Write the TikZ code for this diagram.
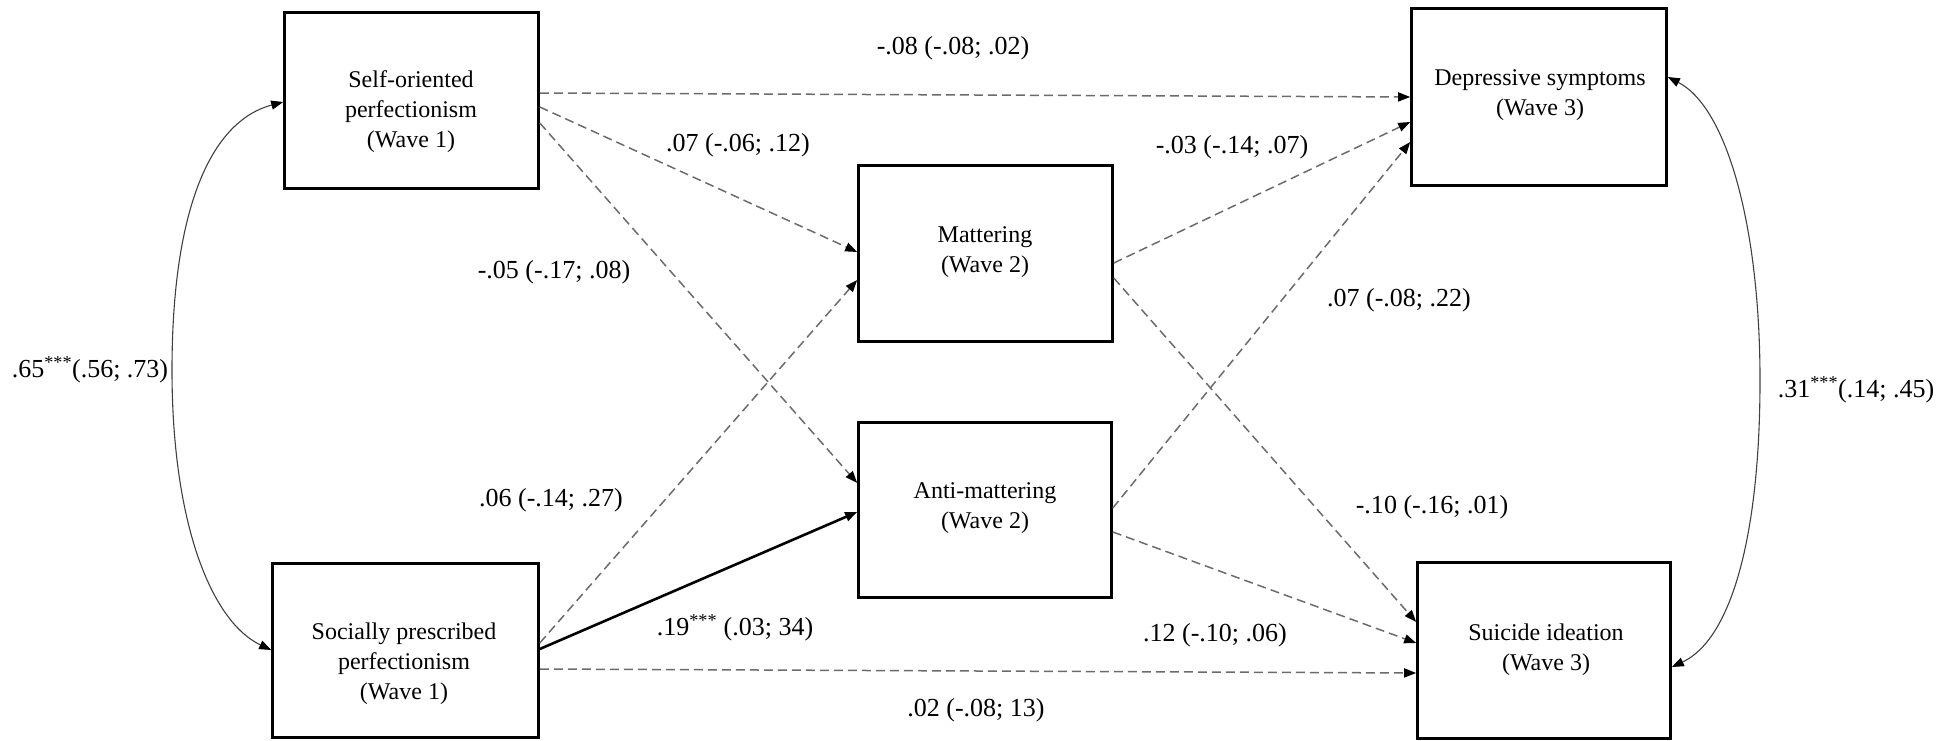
\documentclass[tikz,border=0pt]{standalone}
\usepackage{fontspec}
\setmainfont{Liberation Serif}
\newfontfamily\tnr{Liberation Serif}
\usetikzlibrary{arrows.meta}
\begin{document}
\begin{tikzpicture}[x=1pt,y=-1pt,
  box/.style={draw=black,line width=2.6pt,inner sep=0pt,fill=none},
  boxtext/.style={align=center,font=\tnr\fontsize{24}{30}\selectfont,inner sep=0pt},
  lab/.style={font=\tnr\fontsize{26}{30}\selectfont,inner sep=0pt},
  tip/.style={-{Triangle[length=12pt,width=9pt,color=black]}},
  dashpath/.style={tip,draw=black!58,line width=1.5pt,dash pattern=on 9pt off 5pt},
  solidpath/.style={tip,draw=black,line width=2.6pt},
  corr/.style={{Triangle[length=12pt,width=9pt,color=black]}-{Triangle[length=12pt,width=9pt,color=black]},draw=black!75,line width=1.1pt}]
\useasboundingbox (0,0) rectangle (1953,741);

% boxes
\node[box,minimum width=254pt,minimum height=176pt] (SOP) at (411.5,100.5) {};
\node[box,minimum width=266pt,minimum height=174pt] (SPP) at (405.5,650.5) {};
\node[box,minimum width=254pt,minimum height=176pt] (MAT) at (985.5,253.5) {};
\node[box,minimum width=253pt,minimum height=175pt] (ANT) at (985,510) {};
\node[box,minimum width=255pt,minimum height=177pt] (DEP) at (1539,97) {};
\node[box,minimum width=253pt,minimum height=176pt] (SUI) at (1544,650.5) {};

% box texts
\node[boxtext] (tSOP) at (411,112) {Self-oriented\\perfectionism\\(Wave 1)};
\node[boxtext] (tSPP) at (404,664) {Socially prescribed\\perfectionism\\(Wave 1)};
\node[boxtext] (tMAT) at (985,252) {Mattering\\(Wave 2)};
\node[boxtext] (tANT) at (985,508) {Anti-mattering\\(Wave 2)};
\node[boxtext] (tDEP) at (1540,95) {Depressive symptoms\\(Wave 3)};
\node[boxtext] (tSUI) at (1546,650) {Suicide ideation\\(Wave 3)};

% paths
\draw[dashpath] ([yshift=7.5pt]SOP.east) -- (DEP.west);
\draw[dashpath] ([yshift=-6.5pt]SOP.east) -- ([yshift=1.5pt]MAT.west);
\draw[dashpath] ([yshift=-22.5pt]SOP.east) -- ([yshift=27pt]ANT.west);
\draw[dashpath] ([yshift=7.5pt]SPP.east) -- ([yshift=-26.5pt]MAT.west);
\draw[solidpath] ([yshift=1.5pt]SPP.east) -- ([yshift=-2pt]ANT.west);
\draw[dashpath] ([yshift=-18.5pt]SPP.east) -- ([yshift=-22.5pt]SUI.west);
\draw[dashpath] ([yshift=-9.5pt]MAT.east) -- ([yshift=-25pt]DEP.west);
\draw[dashpath] ([yshift=-24.5pt]MAT.east) -- ([yshift=28.5pt]SUI.west);
\draw[dashpath] ([yshift=2pt]ANT.east) -- ([yshift=-45pt]DEP.west);
\draw[dashpath] ([yshift=-22pt]ANT.east) -- ([yshift=7.5pt]SUI.west);

% correlations
\coordinate (L) at (172,370);
\coordinate (R) at (1760,380);
\draw[corr] ([yshift=-1.5pt]SOP.west) .. controls (208,122) and (172,215) .. (L)
  .. controls (172,525) and (212,622) .. ([yshift=0.5pt]SPP.west);
\draw[corr] ([yshift=20pt]DEP.east) .. controls (1728,108) and (1760,230) .. (R)
  .. controls (1760,540) and (1730,640) .. ([yshift=-16.5pt]SUI.east);

% labels
\node[lab] (l1) at (953,48) {-.08 (-.08; .02)};
\node[lab] (l2) at (738,145) {.07 (-.06; .12)};
\node[lab] (l3) at (554,272) {-.05 (-.17; .08)};
\node[lab] (l4) at (551,500) {.06 (-.14; .27)};
\node[lab] (l5) at (735,628) {.19\textsuperscript{***} (.03; 34)};
\node[lab] (l6) at (976,710) {.02 (-.08; 13)};
\node[lab] (l7) at (1232,147) {-.03 (-.14; .07)};
\node[lab] (l8) at (1432,507) {-.10 (-.16; .01)};
\node[lab] (l9) at (1399,300) {.07 (-.08; .22)};
\node[lab] (l10) at (1215,635) {.12 (-.10; .06)};
\node[lab] (l11) at (90,370) {.65\textsuperscript{***}(.56; .73)};
\node[lab] (l12) at (1856,390) {.31\textsuperscript{***}(.14; .45)};
\end{tikzpicture}
\end{document}
